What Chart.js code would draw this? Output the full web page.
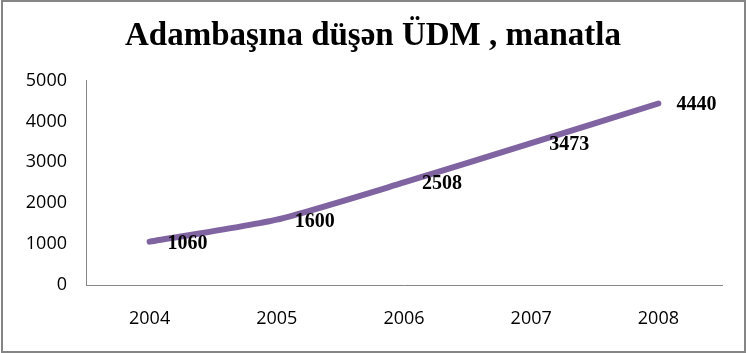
<!DOCTYPE html>
<html>
<head>
<meta charset="utf-8">
<script src="https://cdn.jsdelivr.net/npm/chart.js@4/dist/chart.umd.min.js"></script>
<style>
  html, body { margin: 0; padding: 0; background: #fff; }
  #wrap { position: relative; width: 746px; height: 353px; }
  #frame { position: absolute; left: 1px; top: 0px; width: 741px; height: 349px; border: 2px solid #858585; border-right-width: 3px; box-sizing: content-box; pointer-events: none; }
  canvas { position: absolute; left: 0; top: 0; }
</style>
</head>
<body>
<div id="wrap">
  <canvas id="c" width="746" height="353"></canvas>
  <div id="frame"></div>
</div>
<script>
const titleText = "Adambaşına düşən ÜDM , manatla";
const years = ["2004", "2005", "2006", "2007", "2008"];
const gdpPerCapita = [1060, 1600, 2508, 3473, 4440];
const yTicks = [0, 1000, 2000, 3000, 4000, 5000];

const labelPlugin = {
  id: 'valueLabels',
  afterDatasetsDraw(chart) {
    const ctx = chart.ctx;
    const meta = chart.getDatasetMeta(0);
    ctx.save();
    ctx.font = 'bold 20px "Liberation Serif", "Times New Roman", serif';
    ctx.fillStyle = '#000';
    ctx.textAlign = 'left';
    ctx.textBaseline = 'alphabetic';
    meta.data.forEach((pt, i) => {
      ctx.fillText(String(gdpPerCapita[i]), pt.x + 18, pt.y + 7);
    });
    ctx.restore();
  }
};

new Chart(document.getElementById('c'), {
  type: 'line',
  data: {
    labels: years,
    datasets: [{
      data: gdpPerCapita,
      borderColor: '#8064A2',
      borderWidth: 6,
      borderCapStyle: 'round',
      borderJoinStyle: 'round',
      tension: 0.2,
      pointRadius: 0,
      pointHoverRadius: 0,
      fill: false
    }]
  },
  options: {
    responsive: false,
    animation: false,
    events: [],
    layout: { padding: { left: 0, right: 0, top: 0, bottom: 0 } },
    plugins: {
      legend: { display: false },
      tooltip: { enabled: false },
      title: {
        display: true,
        text: titleText,
        color: '#000',
        font: { family: '"Liberation Serif", "Times New Roman", serif', size: 33, weight: 'bold', lineHeight: 1.2 },
        padding: { top: 17, bottom: 24 }
      }
    },
    scales: {
      x: {
        type: 'category',
        offset: true,
        grid: { display: false, drawTicks: false },
        border: { display: true, color: '#868686', width: 1 },
        ticks: { color: '#000', padding: 23, font: { family: '"Open Sans", sans-serif', size: 18 }, maxRotation: 0 },
        afterFit: s => { s.height = 68; }
      },
      y: {
        min: 0, max: 5000,
        afterBuildTicks: s => { s.ticks = yTicks.map(v => ({ value: v })); },
        grid: { display: false, drawTicks: false },
        border: { display: true, color: '#868686', width: 1 },
        ticks: { color: '#000', padding: 19, font: { family: '"Open Sans", sans-serif', size: 18 }, callback: v => String(v) },
        afterFit: s => { s.width = 86; }
      },
      y2: {
        position: 'right',
        display: true,
        grid: { display: false, drawTicks: false },
        border: { display: false },
        ticks: { display: false },
        afterFit: s => { s.width = 24; }
      }
    }
  },
  plugins: [labelPlugin]
});
</script>
</body>
</html>
